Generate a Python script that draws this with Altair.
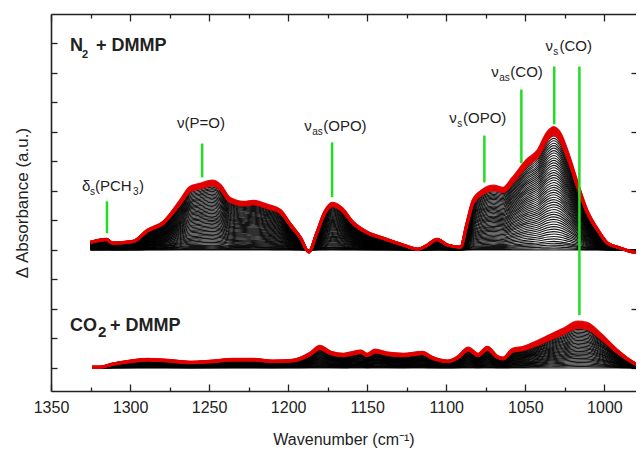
import altair as alt
import pandas as pd

# ---------------- spectra (final spectrum) ----------------
n2_wavenumber = [1325, 1315, 1311, 1298, 1289, 1279, 1268, 1262, 1256, 1248, 1243, 1237,
                 1228, 1222, 1213, 1205, 1199, 1192, 1187, 1182, 1177, 1172, 1166, 1159,
                 1150, 1140, 1127, 1118, 1112, 1106, 1099, 1091, 1087, 1083, 1077, 1070,
                 1064, 1058, 1049, 1042, 1036, 1032, 1028, 1023, 1017, 1011, 1004, 998,
                 990, 982, 975]
n2_final = [0.27, 0.37, 0.24, 0.30, 0.68, 0.95, 1.69, 2.13, 2.23, 2.34, 2.20, 1.76,
            1.62, 1.66, 1.52, 1.35, 0.91, 0.41, -0.07, 0.58, 1.29, 1.59, 1.42, 0.95,
            0.61, 0.41, 0.17, 0.03, 0.17, 0.37, 0.17, 0.10, 0.90, 1.69, 2.03, 2.17,
            2.10, 2.44, 3.05, 3.38, 3.99, 4.16, 3.96, 3.28, 2.27, 1.35, 0.68, 0.24,
            0.07, -0.07, -0.10]

co2_wavenumber = [1324, 1319, 1311, 1300, 1289, 1277, 1262, 1248, 1235, 1222, 1210, 1197,
                  1186, 1180, 1173, 1165, 1161, 1154, 1150, 1145, 1137, 1127, 1115, 1109,
                  1099, 1093, 1086, 1080, 1074, 1068, 1064, 1058, 1051, 1042, 1034, 1026,
                  1017, 1011, 1003, 992, 982, 975]
co2_final = [0.03, 0.03, 0.14, 0.24, 0.30, 0.27, 0.20, 0.24, 0.30, 0.30, 0.24, 0.27,
             0.51, 0.74, 0.54, 0.47, 0.51, 0.58, 0.47, 0.61, 0.51, 0.47, 0.54, 0.37,
             0.24, 0.37, 0.68, 0.47, 0.71, 0.41, 0.34, 0.64, 0.71, 0.91, 1.12, 1.32,
             1.56, 1.52, 1.18, 0.61, 0.20, 0.03]

# fraction of the final spectrum reached by each recorded spectrum
n2_black_scale = [0.0, 0.01, 0.025, 0.04, 0.055, 0.07, 0.09, 0.11, 0.13, 0.15, 0.17, 0.19,
                  0.21, 0.23, 0.25, 0.27, 0.29, 0.31, 0.33, 0.35, 0.37, 0.39, 0.41, 0.43,
                  0.45, 0.47, 0.49, 0.51, 0.53, 0.55, 0.57, 0.59, 0.61, 0.63, 0.65, 0.67,
                  0.69, 0.71, 0.73, 0.75, 0.77, 0.79, 0.81, 0.83, 0.85, 0.87, 0.89, 0.91, 0.93]
n2_red_scale = [0.94, 0.95, 0.96, 0.97, 0.98, 0.99, 1.0]
co2_black_scale = [0.0, 0.03, 0.06, 0.09, 0.12, 0.15, 0.18, 0.21, 0.24, 0.27, 0.30, 0.33,
                   0.36, 0.39, 0.42, 0.45, 0.48, 0.51, 0.54, 0.57, 0.60, 0.63, 0.66, 0.69,
                   0.72, 0.75, 0.78, 0.81, 0.84, 0.87]
co2_red_scale = [0.88, 0.90, 0.92, 0.94, 0.96, 0.98, 1.0]

n2_offset = 4.0
co2_offset = 0.0

# band markers (green lines)
band_wavenumber = [1314.6, 1254.4, 1172.2, 1075.9, 1052.5, 1031.7, 1015.8]
band_y1 = [4.57, 6.46, 5.79, 6.29, 6.94, 8.26, 1.79]
band_y2 = [5.65, 7.61, 7.65, 7.88, 9.44, 10.22, 10.22]

# band labels: main text pieces and subscript pieces
label_text = ["δ", "(PCH", ")", "ν(P=O)", "ν", "(OPO)", "ν", "(OPO)", "ν", "(CO)", "ν", "(CO)"]
label_x = [1330.4, 1322.2, 1294.3, 1270.3, 1189.9, 1177.8, 1098.1, 1089.4, 1071.5, 1059.5, 1037.3, 1028.4]
label_y = [6.16, 6.16, 6.16, 8.31, 8.22, 8.22, 8.49, 8.49, 10.02, 10.02, 10.9, 10.9]
sub_text = ["s", "3", "as", "s", "as", "s"]
sub_x = [1325.3, 1298.1, 1184.8, 1093.0, 1066.5, 1032.3]
sub_y = [6.16, 6.16, 8.22, 8.49, 10.02, 10.9]

# sample labels
group_text = ["N", "+ DMMP", "CO", "+ DMMP"]
group_x = [1338.0, 1321.5, 1338.0, 1312.7]
group_y = [10.93, 10.93, 1.42, 1.42]
n2_sub = ["2"]
n2_sub_x = [1330.4]
n2_sub_y = [10.93]
co2_sub = ["2"]
co2_sub_x = [1320.3]
co2_sub_y = [1.42]

x_labels = [1350, 1300, 1250, 1200, 1150, 1100, 1050, 1000]
x_ticks = [1350, 1325, 1300, 1275, 1250, 1225, 1200, 1175, 1150, 1125, 1100, 1075, 1050, 1025, 1000, 975]
y_ticks = [0, 1, 2, 3, 4, 5, 6, 7, 8, 9, 10, 11]
y_ticks_right = [0, 2, 4, 6, 8, 10]

# ---------------- build tables ----------------
rows = []
cid = 0
for scales, kind, wn, amp, off in [
    (n2_black_scale, "black", n2_wavenumber, n2_final, n2_offset),
    (co2_black_scale, "black", co2_wavenumber, co2_final, co2_offset),
    (n2_red_scale, "red", n2_wavenumber, n2_final, n2_offset),
    (co2_red_scale, "red", co2_wavenumber, co2_final, co2_offset),
]:
    for s in scales:
        for w, a in zip(wn, amp):
            rows.append({"wn": w, "y": off + s * a, "curve": cid, "kind": kind})
        cid += 1
spec = pd.DataFrame(rows)
black_df = spec[spec.kind == "black"]
red_df = spec[spec.kind == "red"]

bands = pd.DataFrame({"wn": band_wavenumber, "y1": band_y1, "y2": band_y2})
labels = pd.DataFrame({"x": label_x, "y": label_y, "t": label_text})
subs = pd.DataFrame({"x": sub_x, "y": sub_y, "t": sub_text})
groups = pd.DataFrame({"x": group_x, "y": group_y, "t": group_text})
n2s = pd.DataFrame({"x": n2_sub_x, "y": n2_sub_y, "t": n2_sub})
co2s = pd.DataFrame({"x": co2_sub_x, "y": co2_sub_y, "t": co2_sub})

W, H = 585, 377
FONT = "Liberation Sans"
INK = "#222222"

xs = alt.Scale(domain=[980, 1350], reverse=True, nice=False, zero=False)
ys = alt.Scale(domain=[-0.78, 12], nice=False, zero=False)

tick_cond = {"condition": {"test": "datum.value % 50 === 0", "value": 7}, "value": 4}

ax_bottom = alt.Axis(orient="bottom", values=x_labels, format="d", ticks=False, tickSize=0,
                     labelPadding=8, labelFontSize=16, labelColor=INK, labelFont=FONT,
                     labelFlush=False, labelOverlap=False,
                     title="Wavenumber (cm⁻¹)", titleFontSize=16, titleFontWeight="normal",
                     titleFont=FONT, titleColor=INK, titlePadding=16,
                     domain=True, domainColor=INK, domainWidth=1.6, grid=False)
ax_left = alt.Axis(orient="left", labels=False, ticks=False, domain=True, domainColor=INK,
                   domainWidth=1.6, grid=False, title="Δ Absorbance (a.u.)", titleFontSize=17,
                   titleFontWeight="normal", titleFont=FONT, titleColor=INK, titlePadding=20)
ax_bottom_in = alt.Axis(orient="top", offset=-H, values=x_ticks, labels=False, domain=False,
                        tickSize=tick_cond, tickColor=INK, tickWidth=1.3, grid=False, title=None)
ax_top_in = alt.Axis(orient="bottom", offset=-H, values=x_ticks, labels=False, domain=True,
                     domainColor=INK, domainWidth=1.6,
                     tickSize=tick_cond, tickColor=INK, tickWidth=1.3, grid=False, title=None)
ax_left_in = alt.Axis(orient="right", offset=-W, values=y_ticks, labels=False, domain=False,
                      tickSize=6, tickColor=INK, tickWidth=1.3, grid=False, title=None)
ax_right_in = alt.Axis(orient="left", offset=-W, values=y_ticks_right, labels=False, domain=False,
                       tickSize=5, tickColor=INK, tickWidth=1.3, grid=False, title=None)

black = alt.Chart(black_df).mark_line(color="black", strokeWidth=1.15, opacity=0.9,
                                      interpolate="monotone", clip=True).encode(
    x=alt.X("wn:Q", scale=xs, axis=ax_bottom),
    y=alt.Y("y:Q", scale=ys, axis=ax_left),
    detail="curve:N",
)
red = alt.Chart(red_df).mark_line(color="#e00000", strokeWidth=2.8, opacity=0.9,
                                  interpolate="monotone", clip=True).encode(
    x=alt.X("wn:Q", scale=xs, axis=ax_bottom_in),
    y=alt.Y("y:Q", scale=ys, axis=ax_left_in),
    detail="curve:N",
)
rules = alt.Chart(bands).mark_rule(color="#22dd22", strokeWidth=2.5).encode(
    x=alt.X("wn:Q", scale=xs, axis=ax_top_in),
    y=alt.Y("y1:Q", scale=ys, axis=ax_right_in),
    y2="y2:Q",
)

def text_layer(df, size, dy=0, weight="normal"):
    return alt.Chart(df).mark_text(align="left", baseline="middle", fontSize=size, dy=dy,
                                   font=FONT, fontWeight=weight, color=INK).encode(
        x=alt.X("x:Q", scale=xs, axis=None),
        y=alt.Y("y:Q", scale=ys, axis=None),
        text="t:N",
    )

chart = alt.layer(
    black, red, rules,
    text_layer(labels, 15),
    text_layer(subs, 10, dy=6),
    text_layer(groups, 18, weight="bold"),
    text_layer(n2s, 11, dy=9, weight="bold"),
    text_layer(co2s, 15, dy=6, weight="bold"),
).resolve_axis(x="independent", y="independent").properties(
    width=W, height=H,
    autosize=alt.AutoSizeParams(type="none"),
    padding={"left": 43, "top": 6, "right": 0, "bottom": 60},
).configure_view(stroke="transparent")

chart.save("out.html", embed_options={"renderer": "svg", "actions": False})
